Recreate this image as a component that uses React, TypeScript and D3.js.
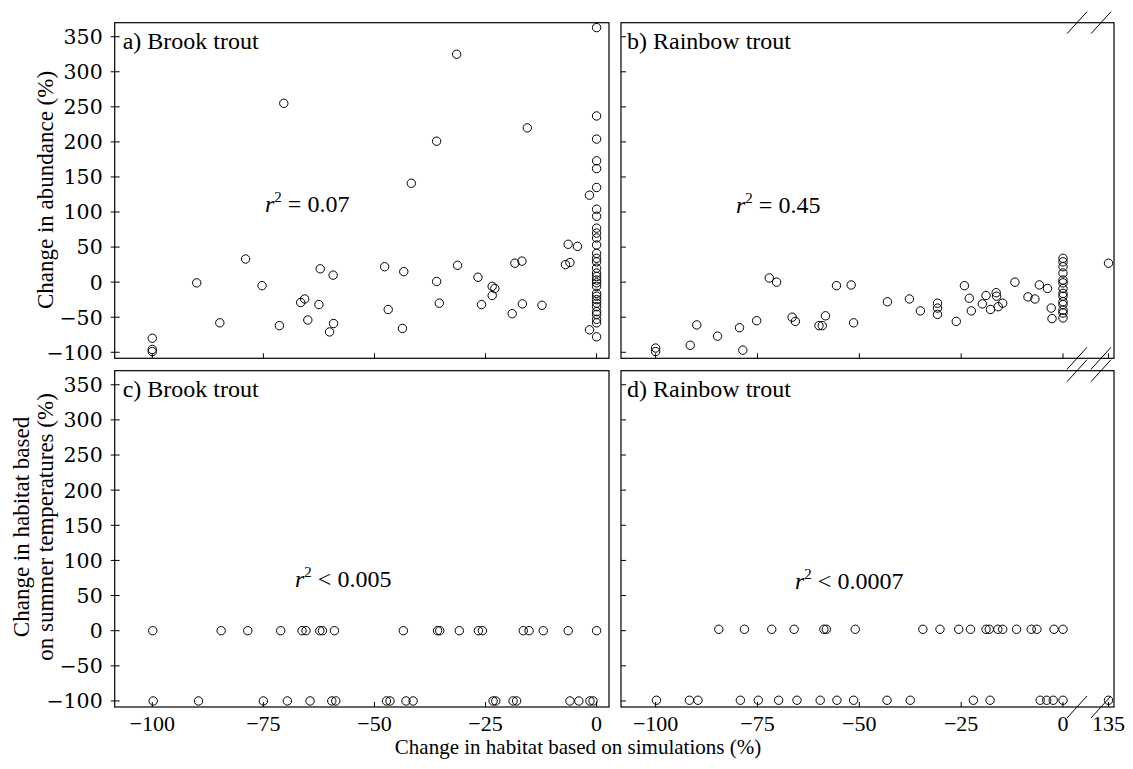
import React from "react";
import * as d3 from "d3";

// ---------- data ----------
const yTicks = [-100, -50, 0, 50, 100, 150, 200, 250, 300, 350];
const xTicksLeft = [-100, -75, -50, -25, 0];
const xTicksRight = [-100, -75, -50, -25, 0, 135];

// a) Brook trout: change in habitat (simulations) vs change in abundance
const brookAbundance: [number, number][] = [
  [0, 363], [-31.5, 325], [-70.4, 255], [0, 237], [-15.6, 220], [0, 204], [-36, 201],
  [0, 173], [0, 162], [0, 135], [-41.7, 141], [-1.6, 124], [0, 104], [0, 94], [0, 77],
  [0, 70], [0, 63], [0, 53], [-6.4, 54], [-4.3, 51], [0, 41], [0, 34], [0, 29], [0, 20],
  [0, 13], [0, 8], [0, 3], [0, -1], [0, -6], [0, -16], [0, -20], [0, -25], [0, -30],
  [0, -35], [0, -42], [0, -46], [0, -53], [0, -58], [-7, 25], [-6, 28], [-18.4, 27],
  [-16.8, 30], [-31.3, 24], [-47.7, 22], [-43.4, 15], [-79, 33], [-90, -1], [-75.3, -5],
  [-62.2, 19], [-59.3, 10], [-36, 1], [-26.7, 7], [-23.5, -6], [-22.9, -9], [-23.5, -19],
  [-65.7, -24], [-66.6, -29], [-62.5, -32], [-35.4, -30], [-25.9, -32], [-16.7, -31],
  [-12.3, -33], [-46.9, -39], [-19, -45], [-84.8, -58], [-71.4, -62], [-65, -54],
  [-59.2, -59], [-60.1, -71], [-43.7, -66], [-1.6, -68], [0, -78], [-100, -80],
  [-100, -96], [-100, -99],
];

// b) Rainbow trout
const rainbowAbundance: [number, number][] = [
  [-100, -94], [-100, -99], [-91.5, -90], [-89.9, -61], [-84.8, -77], [-79.4, -65],
  [-78.6, -97], [-75.2, -55], [-72.1, 6], [-70.3, 0], [-66.5, -50], [-65.7, -56],
  [-59.9, -62], [-59.1, -62], [-58.3, -48], [-55.6, -5], [-52, -4], [-51.4, -58],
  [-43.1, -28], [-37.7, -24], [-35, -41], [-30.8, -30], [-30.8, -37], [-30.8, -46],
  [-26.2, -56], [-24.2, -5], [-23, -23], [-22.5, -41], [-19.8, -31], [-18.9, -19],
  [-17.8, -39], [-16.4, -15], [-16.3, -20], [-15.9, -35], [-14.8, -30], [-11.8, 0],
  [-8.6, -21], [-6.9, -24], [-5.8, -4], [-3.8, -9], [-2.9, -37], [-2.7, -52],
  [0, 34], [0, 29], [0, 22], [0, 13], [0, 3], [0, -1], [0, -9], [0, -16], [0, -20],
  [0, -28], [0, -32], [0, -40], [0, -44], [0, -51], [135, 27],
];

// c) Brook trout: habitat from summer temperatures
const brookTemperature: [number, number][] = [
  [-99.9, 0], [-84.5, 0], [-78.5, 0], [-71.1, 0], [-66.3, 0], [-65.4, 0], [-62.3, 0],
  [-61.7, 0], [-59, 0], [-43.5, 0], [-35.8, 0], [-35.3, 0], [-30.9, 0], [-26.6, 0],
  [-25.7, 0], [-16.5, 0], [-15.2, 0], [-12, 0], [-6.4, 0], [0, 0],
  [-99.8, -100], [-89.6, -100], [-75, -100], [-69.6, -100], [-64.5, -100], [-59.6, -100],
  [-58.7, -100], [-47.3, -100], [-46.5, -100], [-42.9, -100], [-41.3, -100], [-23.3, -100],
  [-22.7, -100], [-18.8, -100], [-18, -100], [-6, -100], [-4, -100], [-1.5, -100],
  [-0.8, -100],
];

// d) Rainbow trout
const rainbowTemperature: [number, number][] = [
  [-84.5, 2], [-78.2, 2], [-71.5, 2], [-66, 2], [-58.7, 2], [-58.1, 2], [-51, 2],
  [-34.4, 2], [-30.2, 2], [-25.6, 2], [-22.7, 2], [-18.9, 2], [-18.1, 2], [-16, 2],
  [-14.8, 2], [-11.4, 2], [-7.8, 2], [-6.4, 2], [-2.2, 2], [0, 2],
  [-99.8, -99], [-91.7, -99], [-89.6, -99], [-79.2, -99], [-74.8, -99], [-69.8, -99],
  [-65.3, -99], [-59.6, -99], [-55.5, -99], [-51.4, -99], [-43.2, -99], [-37.5, -99],
  [-22, -99], [-17.9, -99], [-5.6, -99], [-4, -99], [-2.4, -99], [0, -99], [135, -99],
];

const panelLabels = ["a) Brook trout", "b) Rainbow trout", "c) Brook trout", "d) Rainbow trout"];
const r2Ops = ["=", "=", "<", "<"];
const r2Values = ["0.07", "0.45", "0.005", "0.0007"];

// ---------- layout ----------
const W = 1133, H = 769;
const LEFT = { x0: 114.7, x1: 609 };
const RIGHT = { x0: 621, x1: 1114 };
const TOP = { y0: 22.7, y1: 358.3 };
const BOTTOM = { y0: 370.7, y1: 707 };
const Y_DOMAIN: [number, number] = [-108.6, 370];

const serif = "'Liberation Serif', 'Times New Roman', serif";
const tickFont = "'DejaVu Serif', serif";

const xLeft = d3.scaleLinear().domain([-108.46, 2.79]).range([LEFT.x0, LEFT.x1]);
const xRight = d3.scaleLinear().domain([-108.5, 0, 133, 137]).range([RIGHT.x0, 1063, 1103, RIGHT.x1]);
const yTop = d3.scaleLinear().domain(Y_DOMAIN).range([TOP.y1, TOP.y0]);
const yBottom = d3.scaleLinear().domain(Y_DOMAIN).range([BOTTOM.y1, BOTTOM.y0]);

const r2Pos = [
  { x: 265, y: 212 },
  { x: 736, y: 213 },
  { x: 295, y: 587 },
  { x: 795, y: 589 },
];

type Panel = {
  data: [number, number][];
  x: d3.ScaleLinear<number, number>;
  y: d3.ScaleLinear<number, number>;
  xb: { x0: number; x1: number };
  yb: { y0: number; y1: number };
  left: boolean;
  bottom: boolean;
};

const panels: Panel[] = [
  { data: brookAbundance, x: xLeft, y: yTop, xb: LEFT, yb: TOP, left: true, bottom: false },
  { data: rainbowAbundance, x: xRight, y: yTop, xb: RIGHT, yb: TOP, left: false, bottom: false },
  { data: brookTemperature, x: xLeft, y: yBottom, xb: LEFT, yb: BOTTOM, left: true, bottom: true },
  { data: rainbowTemperature, x: xRight, y: yBottom, xb: RIGHT, yb: BOTTOM, left: false, bottom: true },
];

function BreakMarks({ y }: { y: number }) {
  const centers = [1077, 1101];
  return (
    <g stroke="#000" strokeWidth={1}>
      {centers.map((c) => (
        <line key={c} x1={c - 10} y1={y + 11} x2={c + 10} y2={y - 11} />
      ))}
    </g>
  );
}

function PanelView({ p, i }: { p: Panel; i: number }) {
  const xt = p.left ? xTicksLeft : xTicksRight;
  return (
    <g>
      <rect
        x={p.xb.x0}
        y={p.yb.y0}
        width={p.xb.x1 - p.xb.x0}
        height={p.yb.y1 - p.yb.y0}
        fill="#fff"
        stroke="#000"
        strokeWidth={1.2}
      />
      {yTicks.map((t) => (
        <line
          key={"yt" + t}
          x1={p.xb.x0 - (p.left ? 4 : 0)}
          x2={p.xb.x0 + 5}
          y1={p.y(t)}
          y2={p.y(t)}
          stroke="#000"
          strokeWidth={1}
        />
      ))}
      {p.left &&
        yTicks.map((t) => (
          <text
            key={"yl" + t}
            x={p.xb.x0 - 12}
            y={p.y(t)}
            dy="0.36em"
            textAnchor="end"
            fontFamily={tickFont}
            fontSize={20.5}
          >
            {t < 0 ? "\u2212" + Math.abs(t) : String(t)}
          </text>
        ))}
      {xt.map((t) => (
        <line
          key={"xt" + t}
          x1={p.x(t)}
          x2={p.x(t)}
          y1={p.yb.y1}
          y2={p.yb.y1 - 5}
          stroke="#000"
          strokeWidth={1}
        />
      ))}
      {p.bottom &&
        xt.map((t) => (
          <text
            key={"xl" + t}
            x={p.x(t)}
            y={731}
            textAnchor="middle"
            fontFamily={serif}
            fontSize={22}
          >
            {t < 0 ? "\u2212" + Math.abs(t) : String(t)}
          </text>
        ))}
      {p.data.map((d, k) => (
        <circle
          key={k}
          cx={p.x(d[0])}
          cy={p.y(d[1])}
          r={4.2}
          fill="none"
          stroke="#000"
          strokeWidth={1}
        />
      ))}
      <text
        x={p.xb.x0 + (p.left ? 8 : 6)}
        y={p.yb.y0 + 26.5}
        fontFamily={serif}
        fontSize={24}
      >
        {panelLabels[i]}
      </text>
      <text x={r2Pos[i].x} y={r2Pos[i].y} fontFamily={serif} fontSize={24}>
        <tspan fontStyle="italic">r</tspan>
        <tspan fontSize={15} dy={-10}>2</tspan>
        <tspan dy={10}>{" " + r2Ops[i] + " " + r2Values[i]}</tspan>
      </text>
      {!p.left && (
        <g>
          <BreakMarks y={p.yb.y0} />
          <BreakMarks y={p.yb.y1} />
        </g>
      )}
    </g>
  );
}

export default function App() {
  return (
    <svg
      width={W}
      height={H}
      viewBox={`0 0 ${W} ${H}`}
      style={{ position: "absolute", left: 0, top: 0, background: "#fff" }}
    >
      <rect x={0} y={0} width={W} height={H} fill="#fff" />
      {panels.map((p, i) => (
        <PanelView key={i} p={p} i={i} />
      ))}
      <text x={578} y={754} textAnchor="middle" fontFamily={serif} fontSize={21}>
        Change in habitat based on simulations (%)
      </text>
      <text
        transform="translate(53,190) rotate(-90)"
        textAnchor="middle"
        fontFamily={serif}
        fontSize={23}
      >
        Change in abundance (%)
      </text>
      <text
        transform="translate(29,527) rotate(-90)"
        textAnchor="middle"
        fontFamily={serif}
        fontSize={23}
      >
        Change in habitat based
      </text>
      <text
        transform="translate(53,527) rotate(-90)"
        textAnchor="middle"
        fontFamily={serif}
        fontSize={23}
      >
        on summer temperatures (%)
      </text>
    </svg>
  );
}
